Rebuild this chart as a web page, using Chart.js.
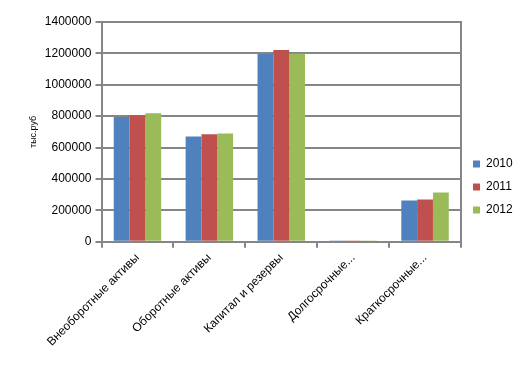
<!DOCTYPE html>
<html>
<head>
<meta charset="utf-8">
<script src="https://cdn.jsdelivr.net/npm/chart.js@4.4.0/dist/chart.umd.min.js"></script>
<style>
  html, body { margin: 0; padding: 0; background: #fff; }
  #wrap { width: 529px; height: 380px; }
</style>
</head>
<body>
<div id="wrap"><canvas id="chart" width="529" height="380"></canvas></div>
<script>
// Balance sheet items, thousand rubles
const categories = ['Внеоборотные активы', 'Оборотные активы', 'Капитал и резервы', 'Долгосрочные...', 'Краткосрочные...'];
const years = ['2010', '2011', '2012'];
const values2010 = [795000, 671000, 1197000, 8000, 262000];
const values2011 = [805000, 684000, 1221000, 8000, 269000];
const values2012 = [818000, 690000, 1197000, 8000, 313000];
const colors = ['#4f81bd', '#c0504d', '#9bbb59'];

const gridColor = '#868686';
const fontFamily = "'Liberation Sans', Arial, sans-serif";

// legend box narrower than Chart.js computes, so the plot reaches further right
const legendWidthFix = {
  id: 'legendWidthFix',
  beforeLayout(chart) {
    const lg = chart.legend;
    if (lg && !lg._patched) {
      const fit = lg.fit;
      lg.fit = function () { fit.call(this); this.width = 67; };
      lg._patched = true;
    }
  }
};

new Chart(document.getElementById('chart'), {
  type: 'bar',
  data: {
    labels: categories,
    datasets: [values2010, values2011, values2012].map((vals, i) => ({
      label: years[i],
      data: vals,
      backgroundColor: colors[i],
      categoryPercentage: 0.66,
      barPercentage: 1
    }))
  },
  plugins: [legendWidthFix],
  options: {
    responsive: false,
    animation: false,
    layout: { padding: { left: 26, top: 22, right: 0, bottom: 28 } },
    plugins: {
      tooltip: { enabled: false },
      legend: {
        position: 'right',
        labels: {
          boxWidth: 7,
          boxHeight: 7,
          padding: 11,
          color: '#000',
          font: { family: fontFamily, size: 12, lineHeight: 1.2 }
        }
      }
    },
    scales: {
      x: {
        grid: { drawOnChartArea: false, color: gridColor, lineWidth: 2, tickLength: 6 },
        border: { color: gridColor, width: 2 },
        ticks: {
          color: '#000',
          maxRotation: 45,
          minRotation: 45,
          font: { family: fontFamily, size: 12 }
        }
      },
      y: {
        min: 0,
        max: 1400000,
        ticks: {
          stepSize: 200000,
          color: '#000',
          padding: 4,
          font: { family: fontFamily, size: 12 },
          callback: v => String(v)
        },
        grid: { color: gridColor, lineWidth: 2, tickLength: 6 },
        border: { color: gridColor, width: 2 },
        title: {
          display: true,
          text: 'тыс.руб',
          color: '#000',
          padding: 2,
          font: { family: fontFamily, size: 9 }
        }
      },
      yRight: {
        position: 'right',
        min: 0,
        max: 1400000,
        ticks: { display: false },
        grid: { display: false },
        border: { color: gridColor, width: 2 },
        afterFit: scale => { scale.width = 1; }
      }
    }
  }
});
</script>
</body>
</html>
